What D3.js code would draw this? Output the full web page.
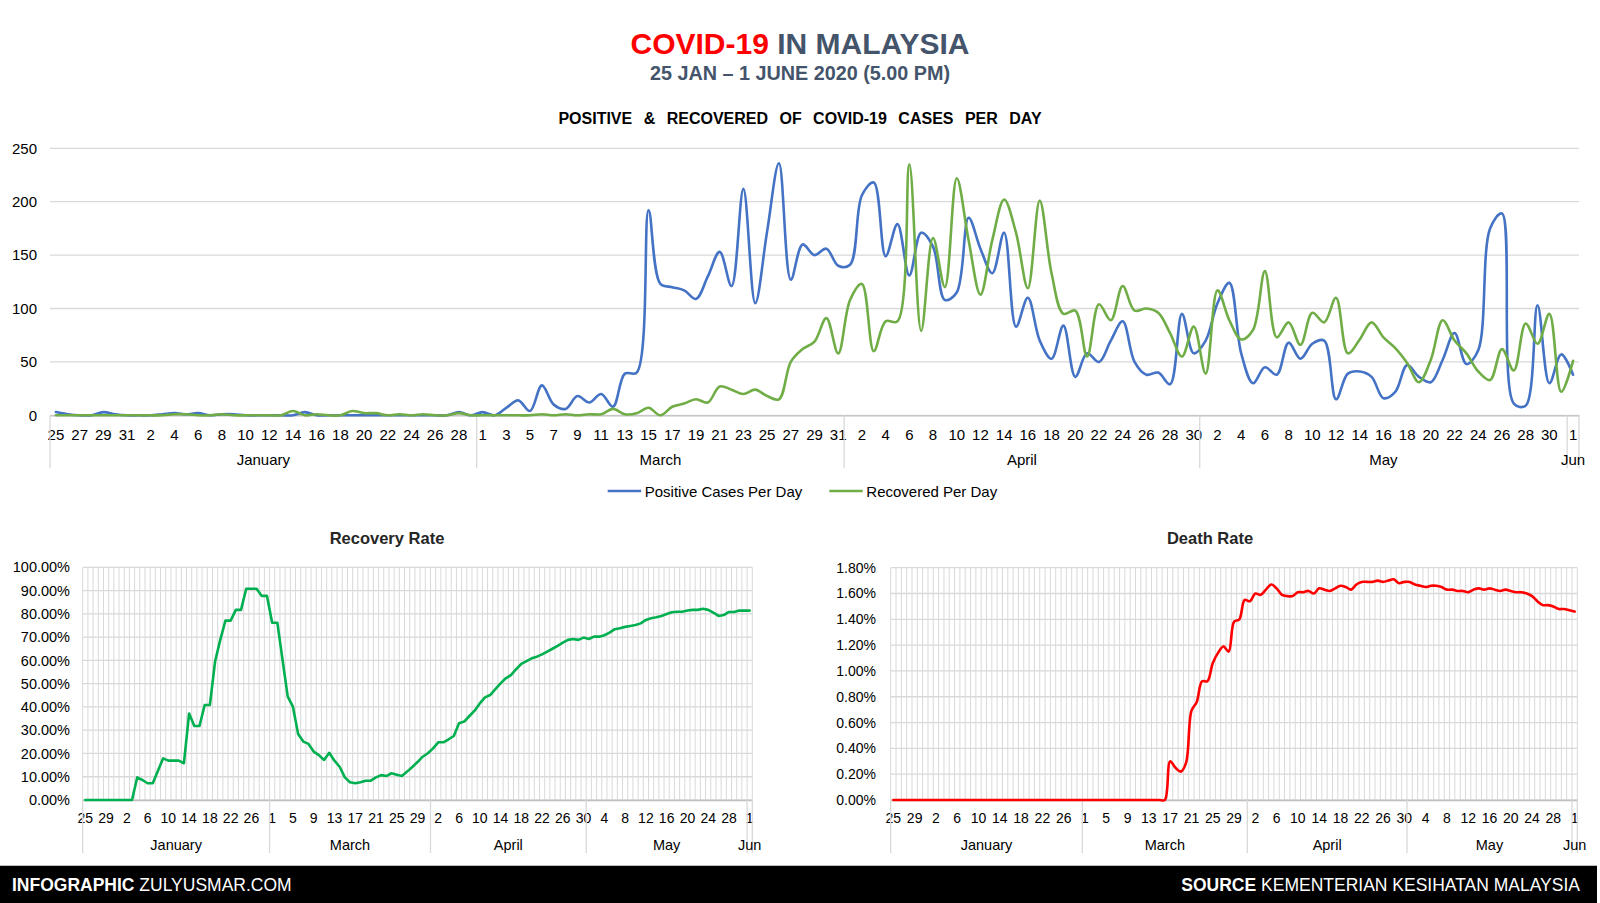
<!DOCTYPE html>
<html>
<head>
<meta charset="utf-8">
<script src="https://cdn.jsdelivr.net/npm/d3@7"></script>
<style>
  body { margin: 0; background: #fff; }
  svg { display: block; font-family: "Liberation Sans", Arial, sans-serif; }
</style>
</head>
<body>
<svg id="chart" width="1600" height="903"></svg>
<script>
// Category axis as in the source sheet: Feb days sit under the "January" group
const monthGroups = ["January", "March", "April", "May", "Jun"];
const groupDays = [
    d3.range(25, 32).concat(d3.range(1, 30)),
    d3.range(1, 32),
    d3.range(1, 31),
    d3.range(1, 32),
    [1]
];

const topTicks = [0, 50, 100, 150, 200, 250];
const recoveryTicks = [0, 10, 20, 30, 40, 50, 60, 70, 80, 90, 100];
const deathTicks = [0, 0.2, 0.4, 0.6, 0.8, 1.0, 1.2, 1.4, 1.6, 1.8];

const positive = [
    // Jan 25-31
    3, 1, 0, 0, 3, 1, 0,
    // Feb
    0, 0, 1, 2, 1, 2, 0, 1, 1, 0, 0, 0, 0, 0, 3, 0, 0, 0, 0, 0, 0, 0, 0, 0, 0, 0, 0, 3, 0,
    // Mar
    3, 0, 7, 14, 4, 28, 10, 6, 18, 12, 20, 8, 39, 40, 192, 123, 120, 117, 109, 130,
    153, 121, 212, 105, 172, 236, 127, 160, 150, 156, 140,
    // Apr
    141, 206, 218, 149, 179, 131, 171, 158, 108, 115, 185, 156, 133, 171, 83, 110, 70, 53, 84, 36,
    58, 50, 70, 88, 50, 38, 40, 29, 95, 58,
    // May
    70, 105, 124, 58, 30, 45, 38, 68, 53, 67, 70, 15, 39, 41, 36, 16, 22, 47, 36, 31,
    52, 77, 48, 61, 175, 189, 11, 9, 103, 30, 57,
    // Jun 1
    38
];

const recovered = [
    0, 0, 0, 0, 0, 0, 0,
    0, 0, 0, 1, 1, 0, 0, 1, 0, 0, 0, 0, 0, 4, 0, 1, 0, 0, 4, 2, 2, 0, 1, 0, 1, 0, 0, 2, 0,
    0, 0, 0, 0, 0, 1, 0, 1, 0, 1, 1, 6, 1, 2, 7, 0, 8, 11, 15, 12,
    27, 24, 20, 24, 18, 15, 50, 62, 69, 91, 58,
    108, 123, 60, 88, 88, 235, 79, 166, 120, 222, 164, 113, 164, 202, 171, 119, 201, 133, 95, 98,
    55, 104, 89, 121, 98, 100, 96, 77, 55, 83,
    39, 117, 89, 71, 80, 135, 73, 87, 66, 96, 87, 110, 58, 71, 87, 73, 63, 49, 31, 52,
    89, 70, 58, 41, 33, 62, 42, 86, 67, 95, 22,
    51
];

// percent values
const recoveryRate = [
    0, 0, 0, 0, 0, 0, 0,
    0, 0, 0, 9.7, 8.6, 7.2, 7.2, 12.6, 17.9, 16.9, 16.9, 16.9, 15.8, 37.2, 31.8, 31.8, 40.8, 40.8,
    59.5, 68.8, 77.1, 77.1, 81.7, 81.7, 90.8, 90.8, 90.8, 87.7, 87.7,
    76.2, 76.2, 60.2, 44.4, 40.1, 28.4, 25.1, 24.1, 20.8, 19.3, 17.2, 20.3, 16.9, 14.3, 9.7, 7.6,
    7.2, 7.6, 8.3, 8.3, 9.7, 10.7, 10.3, 11.5, 10.9, 10.3, 12.2, 14.2, 16.3, 18.6, 20.1,
    22.2, 24.8, 24.8, 26.1, 27.5, 33.0, 33.7, 36.1, 38.4, 41.5, 44.1, 45.1, 47.6, 50.1, 52.3,
    53.7, 56.2, 58.5, 59.7, 60.9, 61.6, 62.6, 63.8, 65.0, 66.2, 67.6, 68.8, 69.2, 68.8, 69.8,
    69.2, 70.2, 70.2, 70.8, 71.9, 73.4, 73.8, 74.4, 74.8, 75.2, 75.9, 77.4, 78.1, 78.5, 79.1,
    79.9, 80.7, 80.9, 80.9, 81.4, 81.7, 81.7, 82.2, 81.7, 80.5, 79.1, 79.5, 80.8, 80.8, 81.4, 81.4,
    81.4
];

const deathRate = [
    0, 0, 0, 0, 0, 0, 0,
    0, 0, 0, 0, 0, 0, 0, 0, 0, 0, 0, 0, 0, 0, 0, 0, 0, 0, 0, 0, 0, 0, 0, 0, 0, 0, 0, 0, 0,
    0, 0, 0, 0, 0, 0, 0, 0, 0, 0, 0, 0, 0, 0, 0, 0,
    0.30, 0.25, 0.22, 0.29, 0.69, 0.76, 0.92, 0.92, 1.06, 1.14, 1.19, 1.15, 1.38, 1.40, 1.55,
    1.54, 1.60, 1.59, 1.63, 1.67, 1.64, 1.59, 1.58, 1.58, 1.61, 1.61, 1.62, 1.60, 1.64, 1.63,
    1.62, 1.64, 1.66, 1.65, 1.63, 1.67, 1.69, 1.69, 1.69, 1.70, 1.69, 1.70, 1.71, 1.68, 1.69,
    1.69, 1.67, 1.66, 1.65, 1.66, 1.66, 1.65, 1.63, 1.63, 1.62, 1.62, 1.61, 1.63, 1.64, 1.63,
    1.64, 1.63, 1.62, 1.63, 1.62, 1.61, 1.61, 1.60, 1.58, 1.54, 1.51, 1.51, 1.50, 1.48, 1.48, 1.47,
    1.46
];

const gridColor = "#d9d9d9";
const svg = d3.select("#chart");

const dayLabels = groupDays.flat();
const cats = d3.range(dayLabels.length);
let cursor = 0;
const groups = monthGroups.map((name, k) => {
    const g = { name, start: cursor, end: cursor + groupDays[k].length - 1 };
    cursor += groupDays[k].length;
    return g;
});

function drawPanel(p) {
    const x = d3.scaleBand().domain(cats).range([p.left, p.right]);
    const y = d3.scaleLinear().domain(p.yDomain).range([p.bottom, p.top]);
    const bw = x.bandwidth();
    const g = svg.append("g");

    // vertical gridlines, one per category boundary
    if (p.vGrid) {
        g.append("g").selectAll("line")
            .data(d3.range(cats.length + 1))
            .join("line")
            .attr("x1", i => i < cats.length ? x(i) : p.right)
            .attr("x2", i => i < cats.length ? x(i) : p.right)
            .attr("y1", p.top)
            .attr("y2", p.bottom)
            .attr("stroke", gridColor)
            .attr("stroke-width", 1);
    }

    g.append("g").selectAll("line")
        .data(p.yTicks)
        .join("line")
        .attr("x1", p.left)
        .attr("x2", p.right)
        .attr("y1", d => y(d))
        .attr("y2", d => y(d))
        .attr("stroke", gridColor)
        .attr("stroke-width", 1.3);

    g.append("g")
        .attr("transform", `translate(${p.left},0)`)
        .call(d3.axisLeft(y).tickValues(p.yTicks).tickFormat(p.yFormat).tickSize(0).tickPadding(p.yPad))
        .call(a => a.select(".domain").remove())
        .attr("font-family", null)
        .attr("font-size", p.yFont)
        .selectAll("text").attr("fill", "#000");

    g.append("g")
        .attr("transform", `translate(0,${p.bottom})`)
        .call(d3.axisBottom(x)
            .tickValues(cats.filter(i => i % p.every === 0))
            .tickFormat(i => dayLabels[i])
            .tickSize(0)
            .tickSizeOuter(0)
            .tickPadding(p.xPad))
        .call(a => a.select(".domain").attr("stroke", "#bfbfbf").attr("stroke-width", 1.3))
        .attr("font-family", null)
        .attr("font-size", p.xFont)
        .selectAll("text").attr("fill", "#000");

    // month group separators and labels
    const bounds = groups.map(d => x(d.start)).concat([p.right]);
    g.append("g").selectAll("line")
        .data(bounds)
        .join("line")
        .attr("x1", d => d)
        .attr("x2", d => d)
        .attr("y1", p.bottom)
        .attr("y2", p.bottom + p.divLen)
        .attr("stroke", gridColor)
        .attr("stroke-width", 1.3);

    g.append("g").selectAll("text")
        .data(groups)
        .join("text")
        .attr("x", d => (x(d.start) + x(d.end) + bw) / 2)
        .attr("y", p.groupY)
        .attr("text-anchor", "middle")
        .attr("font-size", p.groupFont)
        .attr("fill", "#000")
        .text(d => d.name);

    p.series.forEach(s => {
        const line = d3.line()
            .x((d, i) => x(i) + bw / 2)
            .y(d => y(d))
            .curve(s.curve);
        g.append("path")
            .datum(s.values)
            .attr("fill", "none")
            .attr("stroke", s.color)
            .attr("stroke-width", s.width)
            .attr("stroke-linejoin", "round")
            .attr("stroke-linecap", "round")
            .attr("d", line);
    });
}

const smooth = d3.curveCatmullRom.alpha(0.5);
const pct = d => d3.format(".2f")(d) + "%";

drawPanel({
    left: 50, right: 1579, top: 148.3, bottom: 415.3,
    yDomain: [0, 250], yTicks: topTicks, yFormat: d => d, yPad: 13, yFont: 15,
    every: 2, xPad: 14, xFont: 15, groupY: 465, groupFont: 15, divLen: 53,
    vGrid: false,
    series: [
        { values: positive, color: "#4472c4", width: 2.6, curve: smooth },
        { values: recovered, color: "#70ad47", width: 2.6, curve: smooth }
    ]
});

drawPanel({
    left: 82.7, right: 752.3, top: 567.3, bottom: 800,
    yDomain: [0, 100], yTicks: recoveryTicks, yFormat: pct, yPad: 12.7, yFont: 14.5,
    every: 4, xPad: 13, xFont: 14, groupY: 849.5, groupFont: 14.5, divLen: 53,
    vGrid: true,
    series: [{ values: recoveryRate, color: "#00b050", width: 2.6, curve: d3.curveLinear }]
});

drawPanel({
    left: 890.7, right: 1577.3, top: 567.7, bottom: 800,
    yDomain: [0, 1.8], yTicks: deathTicks, yFormat: pct, yPad: 14.7, yFont: 14,
    every: 4, xPad: 13, xFont: 14, groupY: 849.5, groupFont: 14.5, divLen: 53,
    vGrid: true,
    series: [{ values: deathRate, color: "#ff0000", width: 2.6, curve: smooth }]
});

// headings
const title = svg.append("text")
    .attr("x", 800).attr("y", 54)
    .attr("text-anchor", "middle")
    .attr("font-size", 30)
    .attr("font-weight", "bold");
title.append("tspan").attr("fill", "#ff0000").text("COVID-19");
title.append("tspan").attr("fill", "#44546a").text(" IN MALAYSIA");

svg.append("text")
    .attr("x", 800).attr("y", 80)
    .attr("text-anchor", "middle")
    .attr("font-size", 19.8)
    .attr("font-weight", "bold")
    .attr("fill", "#44546a")
    .text("25 JAN – 1 JUNE 2020 (5.00 PM)");

svg.append("text")
    .attr("x", 800).attr("y", 124)
    .attr("text-anchor", "middle")
    .attr("font-size", 16)
    .attr("font-weight", "bold")
    .attr("word-spacing", 7)
    .attr("fill", "#000")
    .text("POSITIVE & RECOVERED OF COVID-19 CASES PER DAY");

svg.append("text")
    .attr("x", 387).attr("y", 544)
    .attr("text-anchor", "middle")
    .attr("font-size", 16.5)
    .attr("font-weight", "bold")
    .attr("fill", "#262626")
    .text("Recovery Rate");

svg.append("text")
    .attr("x", 1210).attr("y", 544)
    .attr("text-anchor", "middle")
    .attr("font-size", 16.5)
    .attr("font-weight", "bold")
    .attr("fill", "#262626")
    .text("Death Rate");

// legend for the top chart
const legendItems = [
    { label: "Positive Cases Per Day", color: "#4472c4", x: 607.7 },
    { label: "Recovered Per Day", color: "#70ad47", x: 829.3 }
];
const legend = svg.append("g").selectAll("g")
    .data(legendItems)
    .join("g")
    .attr("transform", d => `translate(${d.x},491)`);
legend.append("line")
    .attr("x1", 0).attr("x2", 33.4)
    .attr("stroke", d => d.color)
    .attr("stroke-width", 2.6);
legend.append("text")
    .attr("x", 37)
    .attr("y", 5.5)
    .attr("font-size", 15)
    .attr("fill", "#000")
    .text(d => d.label);

// footer bar
svg.append("line")
    .attr("x1", 0).attr("x2", 1597)
    .attr("y1", 865.5).attr("y2", 865.5)
    .attr("stroke", "#bfbfbf");
svg.append("rect")
    .attr("x", 0).attr("y", 866)
    .attr("width", 1597).attr("height", 37)
    .attr("fill", "#000");

const footLeft = svg.append("text")
    .attr("x", 12).attr("y", 891)
    .attr("font-size", 17.5)
    .attr("fill", "#fff");
footLeft.append("tspan").attr("font-weight", "bold").text("INFOGRAPHIC");
footLeft.append("tspan").text(" ZULYUSMAR.COM");

const footRight = svg.append("text")
    .attr("x", 1580).attr("y", 891)
    .attr("text-anchor", "end")
    .attr("font-size", 17.5)
    .attr("fill", "#fff");
footRight.append("tspan").attr("font-weight", "bold").text("SOURCE");
footRight.append("tspan").text(" KEMENTERIAN KESIHATAN MALAYSIA");
</script>
</body>
</html>
